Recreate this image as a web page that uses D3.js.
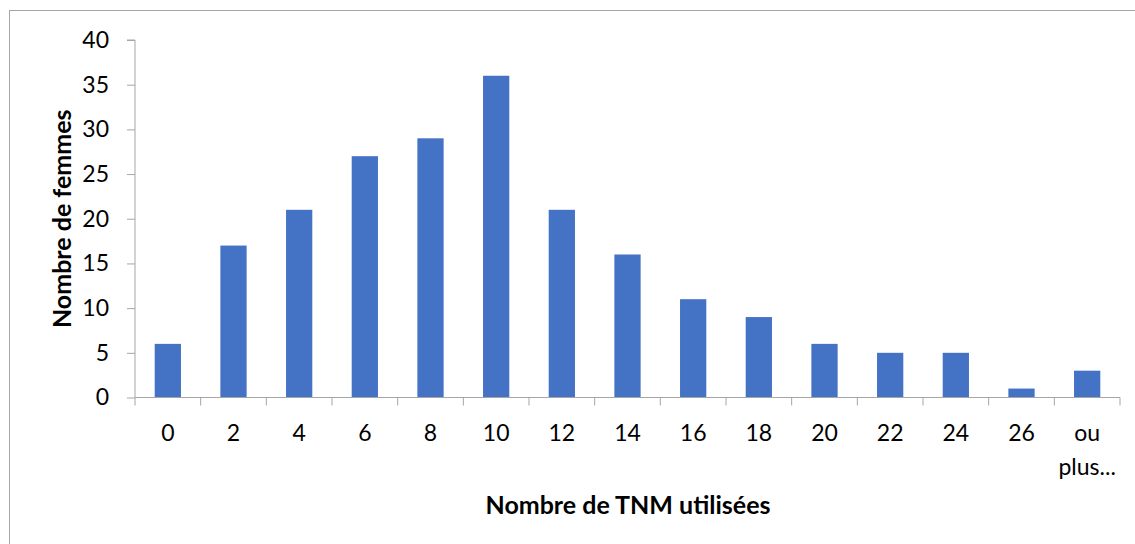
<!DOCTYPE html>
<html lang="fr">
<head>
  <meta charset="UTF-8">
  <title>Nombre de TNM utilisées</title>
  <style>
    body { margin: 0; padding: 0; background: #fff; }
    svg { display: block; font-family: Lato, "Noto Sans", sans-serif; }
  </style>
</head>
<body>
<svg width="1135" height="544"></svg>
<script src="https://d3js.org/d3.v7.min.js"></script>
<script>
const categories = ["0", "2", "4", "6", "8", "10", "12", "14", "16", "18", "20", "22", "24", "26", "ou plus..."];
const counts = [6, 17, 21, 27, 29, 36, 21, 16, 11, 9, 6, 5, 5, 1, 3];
const yTicks = [0, 5, 10, 15, 20, 25, 30, 35, 40];

const svg = d3.select("svg");
const margin = {top: 40, left: 135, right: 15, bottom: 146};
const width = 1135, height = 544;

// chart frame
svg.append("rect")
  .attr("x", 9.5).attr("y", 10.5)
  .attr("width", 1135 - 9.5 + 5).attr("height", 544)
  .attr("fill", "none").attr("stroke", "#a6a6a6");

const x = d3.scaleBand()
  .domain(categories)
  .range([margin.left, width - margin.right])
  .paddingInner(0.6).paddingOuter(0.3);

const y = d3.scaleLinear()
  .domain([0, 40])
  .range([height - margin.bottom - 0.5, margin.top]);

// bars
svg.append("g").selectAll("rect")
  .data(counts)
  .join("rect")
  .attr("x", (d, i) => x(categories[i]))
  .attr("y", d => y(d))
  .attr("width", x.bandwidth())
  .attr("height", d => y(0) - y(d))
  .attr("fill", "#4472c4");

// y axis
const yAxis = svg.append("g")
  .attr("transform", `translate(${margin.left},0)`)
  .call(d3.axisLeft(y).tickValues(yTicks).tickSize(8).tickPadding(18));
yAxis.select(".domain").attr("stroke", "#a6a6a6").attr("d", `M-8,${y(40)}H0V${y(0)}`);
yAxis.selectAll(".tick line").attr("stroke", "#a6a6a6");
yAxis.selectAll("text").attr("font-size", 23).attr("fill", "#000").attr("font-family", "Lato, sans-serif");

// x axis: ticks at band boundaries
const x0 = margin.left, x1 = width - margin.right;
const xAxis = svg.append("g");
xAxis.append("line")
  .attr("x1", x0).attr("x2", x1)
  .attr("y1", y(0)).attr("y2", y(0))
  .attr("stroke", "#a6a6a6");
const bounds = d3.range(categories.length + 1).map(i => x0 + i * (x1 - x0) / categories.length);
xAxis.selectAll("line.tk")
  .data(bounds)
  .join("line").attr("class", "tk")
  .attr("x1", d => d).attr("x2", d => d)
  .attr("y1", y(0)).attr("y2", y(0) + 8)
  .attr("stroke", "#a6a6a6");

const lbl = xAxis.selectAll("text")
  .data(categories)
  .join("text")
  .attr("x", d => x(d) + x.bandwidth() / 2)
  .attr("y", 441)
  .attr("text-anchor", "middle")
  .attr("font-size", 23)
  .attr("fill", "#000");
lbl.each(function(d) {
  const parts = d.split(" ");
  const t = d3.select(this);
  parts.forEach((p, i) => {
    t.append("tspan")
      .attr("x", x(d) + x.bandwidth() / 2)
      .attr("dy", i === 0 ? 0 : 34)
      .text(p);
  });
});

// axis titles
svg.append("text")
  .attr("transform", `translate(71,${(y(0) + y(40)) / 2}) rotate(-90)`)
  .attr("text-anchor", "middle")
  .attr("font-size", 25)
  .attr("font-weight", "bold")
  .text("Nombre de femmes");

svg.append("text")
  .attr("x", 628)
  .attr("y", 514)
  .attr("text-anchor", "middle")
  .attr("font-size", 25)
  .attr("font-weight", "bold")
  .text("Nombre de TNM utilisées");
</script>
</body>
</html>
